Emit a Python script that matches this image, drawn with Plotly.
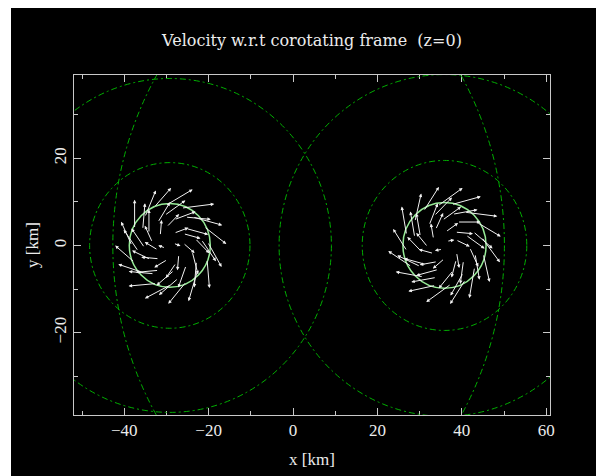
import plotly.graph_objects as go

# ---- data (km) ----
title_text = "Velocity w.r.t corotating frame  (z=0)"
x_label = "x [km]"
y_label = "y [km]"
x_range = [-51.9, 60.9]
y_range = [-38.9, 39.1]

star_x = [-29.2, 35.9]
star_y = [0.0, 0.0]
star_radius = [9.6, 9.85]
mid_radius = [19.0, 19.5]
big_radius = [38.3, 39.2]
huge_radius = [79.3, 78.6]

# left star arrows: tail offsets from star centre and velocity vectors (km)
left_rx = [-0.81, 2.78, 5.46, 8.12, 8.97, 8.83, 6.54, 3.89, 0.31, -3.18, -5.93, -8.34, -9.0, -8.34, -5.89, -3.71,
           1.04, 3.89, 5.99, 5.31, 3.86, 1.01, -2.66, -4.59, -5.98, -4.94, -2.82,
           1.03, 3.15, 2.12, -0.57, -2.82, -2.26, 0.87, -1.04, 3.75, 6.32, -3.75, -6.41,
           -1.22, 7.48, 2.02, -7.48, 3.22, 1.47, -2.57, -0.75, -4.14]
left_ry = [9.26, 8.56, 6.51, 4.32, 0.78, -3.21, -5.89, -8.34, -8.99, -8.74, -6.36, -3.89, 0.0, 3.89, 6.54, 8.74,
           5.91, 3.89, 1.60, -1.42, -4.60, -5.71, -5.71, -3.21, -0.52, 2.85, 5.30,
           2.82, 0.56, -2.12, -3.25, -1.03, 2.26, 0.50, -0.60, 6.50, -3.65, -6.50, 3.70,
           6.89, 1.32, -7.53, -1.32, 2.70, -4.04, -3.06, 4.23, 0.73]
left_u = [5.20, 6.45, 5.80, 4.39, 2.75, 0.48, -1.75, -3.54, -5.17, -5.48, -5.23, -3.83, -2.11, 0.0, 2.15, 3.35,
          4.23, 4.35, 2.83, 1.16, -1.54, -3.45, -4.48, -3.63, -2.58, 0.0, 2.38,
          2.82, 2.30, -0.26, -2.60, -2.60, 0.26, 1.41, -1.41, 4.98, -0.44, -4.98, 0.44,
          4.10, 2.87, -3.83, -2.87, 3.38, -2.01, -3.49, 2.47, -1.48]
left_v = [3.00, 0.79, -1.55, -3.31, -4.76, -5.48, -5.74, -4.21, -2.63, -0.48, 1.70, 3.21, 4.53, 5.50, 5.06, 3.72,
          1.54, -1.16, -2.83, -4.35, -4.23, -2.89, -0.39, 1.69, 3.69, 4.50, 3.82,
          1.03, -1.93, -2.99, -1.50, 1.50, 2.99, -0.51, 0.51, -0.44, -4.98, 0.44, 4.98,
          2.87, -4.10, -3.21, 4.10, -0.91, -2.87, 0.31, 2.47, 3.17]

# right star arrows
right_rx = [-1.60, 1.65, 4.77, 7.62, 8.80, 9.19, 7.13, 4.93, 1.56, -2.11, -5.05, -7.80, -8.91, -8.98, -7.01, -4.93,
            -0.51, 3.10, 5.08, 5.98, 4.49, 2.09, -1.48, -4.38, -5.41, -5.73, -3.63,
            0.27, 2.72, 2.86, 0.0, -2.62, -2.60, 0.55, -0.50, 1.92, 7.24, -1.97, -7.05,
            -2.46, 6.80, 4.42, -5.75, 2.57, 2.76, -1.73, -2.10, -3.98]
right_ry = [9.06, 9.36, 7.63, 5.34, 1.87, -1.95, -4.99, -7.89, -8.86, -9.16, -7.21, -4.88, -1.25, 2.41, 5.48, 7.89,
            5.78, 5.37, 2.37, -0.52, -3.51, -5.73, -5.51, -4.38, -1.45, 2.09, 4.65,
            3.09, 1.27, -1.65, -3.0, -1.84, 1.50, 0.95, -0.87, 7.15, -1.94, -7.34, 1.89,
            6.77, 3.17, -6.31, -4.82, 3.06, -3.29, -3.72, 3.64, -0.35]
right_u = [4.91, 5.80, 6.45, 4.76, 3.61, 1.24, -1.04, -3.00, -4.91, -5.38, -5.42, -4.61, -2.72, -0.96, 1.24, 3.00,
           3.69, 4.50, 3.69, 1.69, -0.63, -2.89, -4.35, -4.35, -2.83, -0.78, 1.69,
           2.46, 2.72, 0.52, -2.30, -2.90, -0.52, 1.48, -1.48, 4.92, 0.87, -4.92, -0.87,
           3.54, 3.83, -2.50, -4.53, 3.49, -0.91, -3.45, 1.48, -2.25]
right_v = [3.44, 1.55, -0.79, -2.75, -4.79, -5.36, -5.91, -4.61, -3.44, -1.14, 0.96, 3.00, 4.19, 5.42, 5.36, 4.61,
           2.58, 0.0, -2.58, -3.63, -4.46, -3.45, -1.16, 1.16, 2.83, 4.43, 4.17,
           1.72, -1.27, -2.95, -1.93, 0.78, 2.95, 0.26, -0.26, 0.87, -4.92, -0.87, 4.92,
           3.54, -3.21, -4.33, 2.11, -0.31, -3.38, -0.61, 3.17, 2.68]

# ---- styles ----
ARROW_SCALE = 1.2
FONT = "Liberation Serif"
TITLE_FONT = "DejaVu Serif"
FRAME = "#c8c8c8"
TXT = "#ececec"
GREEN = "rgb(0,175,0)"
LIGHT_GREEN = "rgb(150,235,150)"
DASHDOT = "6px,3px,2px,3px"

fig = go.Figure()
# invisible trace to create axes
fig.add_trace(go.Scatter(x=star_x, y=star_y, mode="markers",
                         marker=dict(size=1, color="black", opacity=0), hoverinfo="skip",
                         showlegend=False))

shapes = []
for i in range(2):
    cx, cy = star_x[i], star_y[i]
    for r, col, dash, w in [(huge_radius[i], GREEN, DASHDOT, 1),
                            (big_radius[i], GREEN, DASHDOT, 1),
                            (mid_radius[i], GREEN, DASHDOT, 1),
                            (star_radius[i], LIGHT_GREEN, "solid", 1.5)]:
        shapes.append(dict(type="circle", xref="x", yref="y",
                           x0=cx - r, x1=cx + r, y0=cy - r, y1=cy + r,
                           line=dict(color=col, width=w, dash=dash), layer="above"))

# thin white strip on the left edge of the canvas
shapes.append(dict(type="rect", xref="paper", yref="paper", xsizemode="pixel", ysizemode="pixel",
                   xanchor=0, yanchor=0, x0=-70, x1=-63, y0=-70, y1=420,
                   fillcolor="white", line=dict(width=0), layer="above"))

annotations = []
for cx, cy, rx, ry, u, v in [(star_x[0], star_y[0], left_rx, left_ry, left_u, left_v),
                             (star_x[1], star_y[1], right_rx, right_ry, right_u, right_v)]:
    for a, b, du, dv in zip(rx, ry, u, v):
        tx, ty = cx + a, cy + b
        annotations.append(dict(x=tx + du * ARROW_SCALE, y=ty + dv * ARROW_SCALE, ax=tx, ay=ty,
                                xref="x", yref="y", axref="x", ayref="y", text="", showarrow=True,
                                arrowhead=2, arrowsize=0.7, arrowwidth=1, arrowcolor="#f2f2f2",
                                standoff=0, startstandoff=0))

axis_common = dict(showgrid=False, zeroline=False, showline=True, linecolor=FRAME, linewidth=1,
                   mirror="allticks", ticks="inside", ticklen=7, tickwidth=1, tickcolor=FRAME,
                   dtick=20, tick0=0,
                   minor=dict(dtick=10, tick0=0, ticks="inside", ticklen=4, tickcolor=FRAME, tickwidth=1),
                   tickfont=dict(family=FONT, size=17, color=TXT))

fig.update_layout(
    width=596, height=468,
    margin=dict(l=66, r=54, t=67, b=61),
    paper_bgcolor="black", plot_bgcolor="black",
    showlegend=False,
    title=dict(text=title_text, x=0.5, xref="paper", xanchor="center",
               y=1 - 32.7 / 468, yref="container", yanchor="middle",
               font=dict(family=TITLE_FONT, size=16, color=TXT)),
    xaxis=dict(range=x_range, title=dict(text=x_label, font=dict(family=FONT, size=17, color=TXT), standoff=13),
               **axis_common),
    yaxis=dict(range=y_range, tickangle=-90,
               title=dict(text=y_label, font=dict(family=FONT, size=17, color=TXT), standoff=8),
               **axis_common),
    shapes=shapes,
    annotations=annotations,
)

fig.write_html("out.html")
